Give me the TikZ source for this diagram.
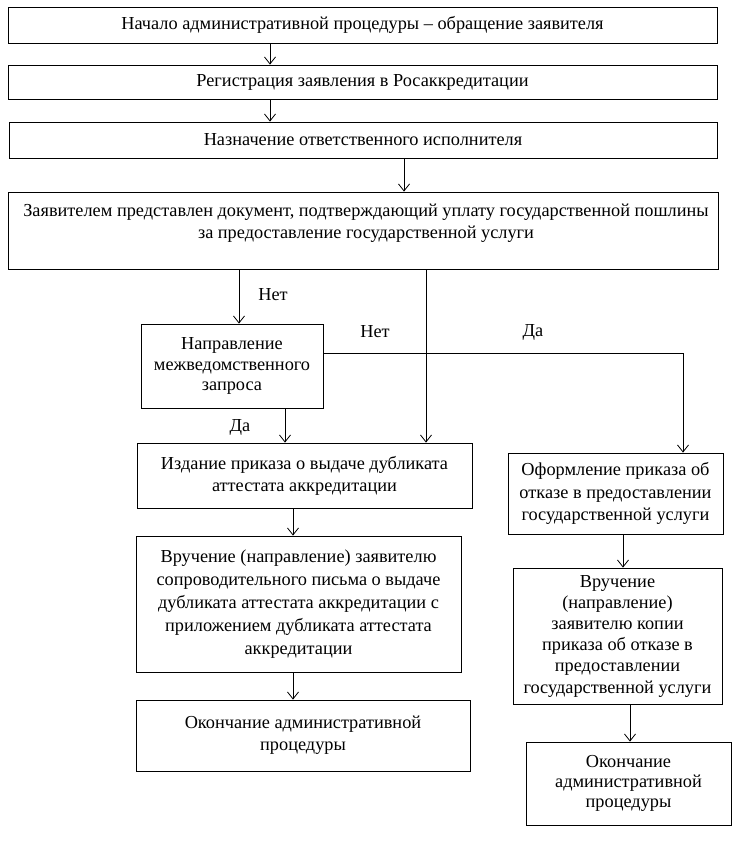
\documentclass[tikz,border=0pt]{standalone}
\usepackage{fontspec}
\setmainfont{Liberation Serif}
\usetikzlibrary{arrows.meta}
\tikzset{
  box/.style={draw, line width=0.8pt, align=center, inner sep=2pt,
    font=\fontsize{18.3}{22}\selectfont},
  lbl/.style={font=\fontsize{18.3}{22}\selectfont, inner sep=0pt},
  arr/.style={line width=0.8pt, -{Straight Barb[length=7pt,width=11pt,line width=0.8pt]}},
  ln/.style={line width=0.8pt}
}
\begin{document}
\begin{tikzpicture}[x=1pt,y=-1pt]
\useasboundingbox (0,0) rectangle (742,842);
% boxes
\node[box, minimum width=709pt, minimum height=36pt] (b1) at (362.5,25)
  {Начало административной процедуры – обращение заявителя};
\node[box, minimum width=709pt, minimum height=34pt] (b2) at (362.5,82)
  {Регистрация заявления в Росаккредитации};
\node[box, minimum width=708pt, minimum height=36pt] (b3) at (363,140)
  {Назначение ответственного исполнителя};
\node[draw, line width=0.8pt, minimum width=710pt, minimum height=77pt] (b4) at (363,230.5) {};
\node[lbl, align=center, anchor=north, font=\fontsize{18.3}{22}\selectfont] (b4t) at (366,204)
  {Заявителем представлен документ, подтверждающий уплату государственной пошлины\\
   за предоставление государственной услуги};
\node[box, minimum width=182pt, minimum height=84pt, font=\fontsize{18.3}{20.5}\selectfont] (b5) at (232,366)
  {Направление\\межведомственного\\запроса};
\node[box, minimum width=335pt, minimum height=65pt] (b6) at (304.5,475.5)
  {Издание приказа о выдаче дубликата\\аттестата аккредитации};
\node[box, minimum width=325pt, minimum height=136pt, font=\fontsize{18.3}{23}\selectfont] (b8) at (298.5,604)
  {Вручение (направление) заявителю\\сопроводительного письма о выдаче\\дубликата аттестата аккредитации с\\приложением дубликата аттестата\\аккредитации};
\node[box, minimum width=334pt, minimum height=71pt] (b9) at (303,735.5)
  {Окончание административной\\процедуры};
\node[box, minimum width=215pt, minimum height=81pt, font=\fontsize{18.3}{22.5}\selectfont] (b7) at (615.5,493.5)
  {Оформление приказа об\\отказе в предоставлении\\государственной услуги};
\node[box, minimum width=209pt, minimum height=136pt, font=\fontsize{18.3}{21.2}\selectfont] (b10) at (617.5,636)
  {Вручение\\(направление)\\заявителю копии\\приказа об отказе в\\предоставлении\\государственной услуги};
\node[box, minimum width=205pt, minimum height=83pt, font=\fontsize{18.3}{20}\selectfont] (b11) at (628.5,783.5)
  {Окончание\\административной\\процедуры};
% x positions of connectors
\coordinate (xa) at (270,0);
\coordinate (xb) at (404,0);
\coordinate (xc) at (239,0);
\coordinate (xd) at (426,0);
\coordinate (xe) at (285,0);
\coordinate (xf) at (293,0);
\coordinate (xg) at (623,0);
\coordinate (xh) at (630,0);
\coordinate (k) at (683,353);
% connectors
\draw[arr] (b1.south -| xa) -- (b2.north -| xa);
\draw[arr] (b2.south -| xa) -- (b3.north -| xa);
\draw[arr] (b3.south -| xb) -- (b4.north -| xb);
\draw[arr] (b4.south -| xc) -- (b5.north -| xc);
\draw[arr] (b4.south -| xd) -- (b6.north -| xd);
\draw[arr] (b5.east |- k) -- (k) -- (b7.north -| k);
\draw[arr] (b5.south -| xe) -- (b6.north -| xe);
\draw[arr] (b6.south -| xf) -- (b8.north -| xf);
\draw[arr] (b8.south -| xf) -- (b9.north -| xf);
\draw[arr] (b7.south -| xg) -- (b10.north -| xg);
\draw[arr] (b10.south -| xh) -- (b11.north -| xh);
% labels
\node[lbl] (n1) at (273,295) {Нет};
\node[lbl] (n2) at (375,332) {Нет};
\node[lbl] (d1) at (533,332) {Да};
\node[lbl] (d2) at (240,427) {Да};
\end{tikzpicture}
\end{document}
